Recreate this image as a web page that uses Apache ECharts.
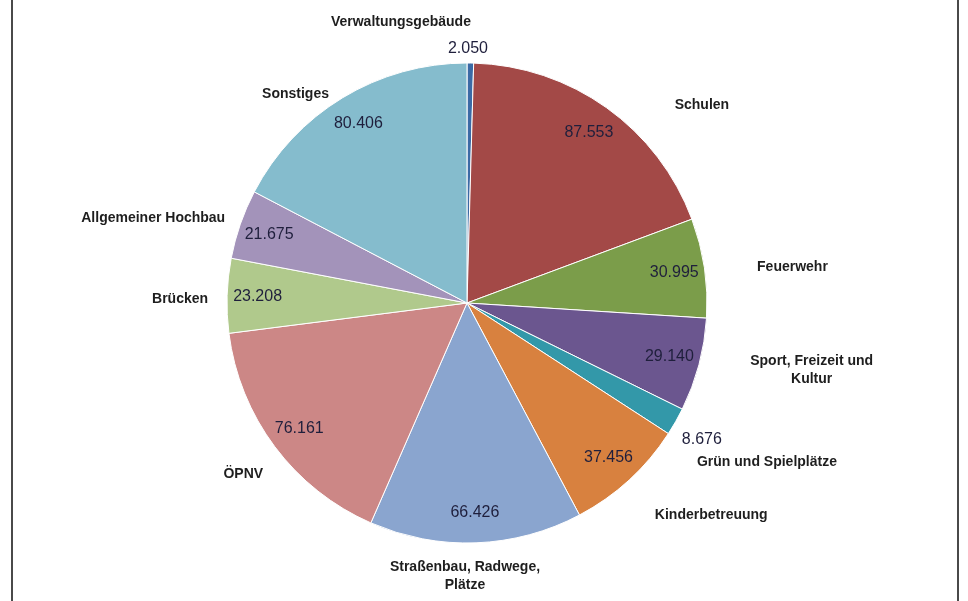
<!DOCTYPE html>
<html><head><meta charset="utf-8">
<script src="https://cdn.jsdelivr.net/npm/echarts@6/dist/echarts.min.js"></script>
<style>
html,body{margin:0;padding:0;background:#fff;}
#wrap{position:relative;width:968px;height:601px;overflow:hidden;}
#chart{position:absolute;left:0;top:0;width:968px;height:601px;}
#frame{position:absolute;left:11px;top:-2px;width:944px;height:605px;border-left:2px solid #4a4a4a;border-right:2px solid #4a4a4a;pointer-events:none;}
</style></head><body>
<div id="wrap"><div id="chart"></div><div id="frame"></div></div>
<script>
const categories = ['Verwaltungsgebäude','Schulen','Feuerwehr','Sport, Freizeit und Kultur','Grün und Spielplätze','Kinderbetreuung','Straßenbau, Radwege, Plätze','ÖPNV','Brücken','Allgemeiner Hochbau','Sonstiges'];
const nameLabels = ['Verwaltungsgebäude','Schulen','Feuerwehr','Sport, Freizeit und\nKultur','Grün und Spielplätze','Kinderbetreuung','Straßenbau, Radwege,\nPlätze','ÖPNV','Brücken','Allgemeiner Hochbau','Sonstiges'];
const values = [2050, 87553, 30995, 29140, 8676, 37456, 66426, 76161, 23208, 21675, 80406];
const colors = ['#3b6aa5','#a34947','#7b9d4a','#6b568f','#3398a9','#d8813f','#8aa5cf','#cc8786','#b0c98c','#a393ba','#85bccd'];

// label placement styling: [labelLine length, length2]
const nameLine = [[41,-145],[3.5,61],[6,41.7],[20,27],[82,-55],[47.6,-11.4],[33,-92.4],[45.5,-29.7],[-110,124],[19,-7.8],[4.4,6.4]];
const outsideValueLine = {0:[14,-27.6], 4:[37,-31]};

function fmt(v){ return String(v).replace(/\B(?=(\d{3})+(?!\d))/g, '.'); }

const nameData = categories.map((c,i)=>({
  name: c, value: values[i],
  itemStyle: {color: colors[i]},
  labelLine: {show:false, length: nameLine[i][0], length2: nameLine[i][1]}
}));
const valueData = categories.map((c,i)=>{
  const d = {name: c, value: values[i]};
  if (outsideValueLine[i]) {
    d.label = {position:'outside'};
    d.labelLine = {show:false, length: outsideValueLine[i][0], length2: outsideValueLine[i][1]};
  }
  return d;
});

const chart = echarts.init(document.getElementById('chart'), null, {renderer:'canvas'});
chart.setOption({
  animation: false,
  backgroundColor: '#ffffff',
  series: [
    {
      type: 'pie',
      center: [467, 303],
      radius: [0, 240],
      startAngle: 90,
      clockwise: true,
      avoidLabelOverlap: false,
      silent: true,
      itemStyle: {borderColor: '#ffffff', borderWidth: 1},
      label: {
        show: true, position: 'outside',
        formatter: p => nameLabels[p.dataIndex].split('\n').map(l => '{c|' + l + '}').join('\n'),
        rich: {c: {align:'center', fontFamily:'Liberation Sans, Arial, sans-serif', fontWeight:'bold', fontSize:14, color:'#1e1e1e', lineHeight:18}}
      },
      data: nameData
    },
    {
      type: 'pie',
      center: [467, 303],
      radius: [173, 240],
      startAngle: 90,
      clockwise: true,
      avoidLabelOverlap: false,
      silent: true,
      itemStyle: {color: 'rgba(0,0,0,0)', borderWidth: 0},
      label: {
        show: true, position: 'inside',
        formatter: p => fmt(p.value),
        fontFamily: 'Liberation Sans, Arial, sans-serif', fontSize: 16, color: '#1f1f3c'
      },
      data: valueData
    }
  ]
});
</script>
</body></html>
